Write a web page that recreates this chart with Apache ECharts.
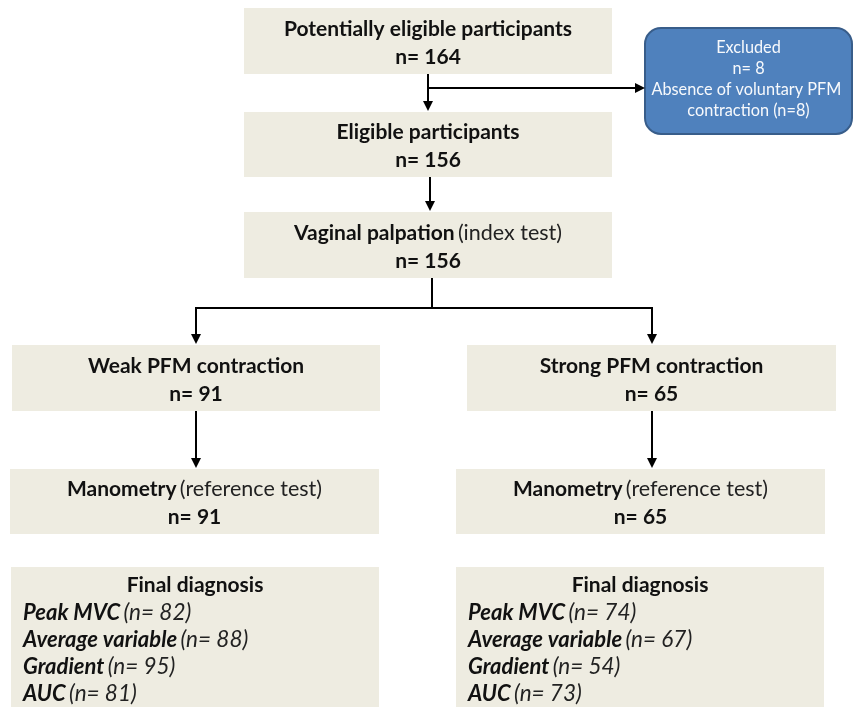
<!DOCTYPE html>
<html>
<head>
<meta charset="utf-8">
<script src="https://cdn.jsdelivr.net/npm/echarts@6/dist/echarts.min.js"></script>
<style>
  html, body { margin: 0; padding: 0; background: #fff; }
  #main { width: 857px; height: 707px; }
</style>
</head>
<body>
<div id="main"></div>
<script>
// flow steps, top to bottom, left to right
const stepTitles = ['Potentially eligible participants', 'Eligible participants', 'Vaginal palpation',
  'Weak PFM contraction', 'Strong PFM contraction', 'Manometry', 'Manometry'];
const stepNotes = ['', '', '(index test)', '', '', '(reference test)', '(reference test)'];
const stepCounts = [164, 156, 156, 91, 65, 91, 65];

const excludedCount = 8;
const excludedReason = 'Absence of voluntary PFM contraction';
const excludedReasonCount = 8;

const diagnosisTitle = 'Final diagnosis';
const diagnosisVariables = ['Peak MVC', 'Average variable', 'Gradient', 'AUC'];
const weakDiagnosisCounts = [82, 88, 95, 81];
const strongDiagnosisCounts = [74, 67, 54, 73];

// layout (page units, y down)
const stepBoxes = [
  [244, 8, 612, 74], [244, 112, 612, 177], [244, 212, 612, 278],
  [12, 345, 380, 411], [467, 345, 836, 411],
  [10, 469, 379, 534], [456, 469, 825, 534]
];
const excludedBox = [645, 28, 852, 134];
const diagnosisBoxes = [[11, 567, 379, 707], [456, 567, 824, 707]];
// plain elbow parts
const links = [
  [[432, 278], [432, 308], [196, 308], [196, 320]],
  [[432, 308], [652, 308], [652, 320]]
];
// straight legs ending in an arrow head
const arrows = [
  [[428, 74], [428, 106]],
  [[428, 88], [640, 88]],
  [[430, 177], [430, 206]],
  [[196, 318], [196, 339]],
  [[652, 318], [652, 339]],
  [[196, 411], [196, 463]],
  [[652, 411], [652, 463]]
];

const FONT = 'Lato, "Open Sans", sans-serif';
const boxFill = '#eeece1';

function rectOf(api) {
  const p0 = api.coord([api.value(0), api.value(1)]);
  const p1 = api.coord([api.value(2), api.value(3)]);
  return {x: p0[0], y: p0[1], width: p1[0] - p0[0], height: p1[1] - p0[1]};
}

function renderStep(params, api) {
  const i = params.dataIndex;
  const r = rectOf(api);
  const note = stepNotes[i] ? ' {r|' + stepNotes[i] + '}' : '';
  return {
    type: 'group',
    children: [
      {type: 'rect', shape: r, style: {fill: boxFill}},
      {
        type: 'text', x: r.x + r.width / 2, y: r.y + r.height / 2 + 2,
        style: {
          text: '{b|' + stepTitles[i] + '}' + note + '\n{b|n= ' + stepCounts[i] + '}',
          align: 'center', verticalAlign: 'middle',
          rich: {
            b: {fontFamily: FONT, fontWeight: 'bold', fontSize: 21, lineHeight: 28, fill: '#111'},
            r: {fontFamily: FONT, fontSize: 21.5, lineHeight: 28, fill: '#222'}
          }
        }
      }
    ]
  };
}

function renderExcluded(params, api) {
  const r = rectOf(api);
  return {
    type: 'group',
    children: [
      {type: 'rect', shape: Object.assign({r: 16}, r), style: {fill: '#4f81bd', stroke: '#385d8a', lineWidth: 2}},
      {
        type: 'text', x: r.x + r.width / 2, y: r.y + r.height / 2 - 2,
        style: {
          text: 'Excluded\nn= ' + excludedCount + '\n' + excludedReason + ' (n=' + excludedReasonCount + ')',
          width: 200, overflow: 'break',
          align: 'center', verticalAlign: 'middle',
          fontFamily: FONT, fontSize: 16.3, lineHeight: 21, fill: '#f7f9fc'
        }
      }
    ]
  };
}

function renderDiagnosis(params, api) {
  const counts = params.dataIndex === 0 ? weakDiagnosisCounts : strongDiagnosisCounts;
  const r = rectOf(api);
  const body = diagnosisVariables.map((v, k) => '{bi|' + v + '} {i|(n= ' + counts[k] + ')}').join('\n');
  return {
    type: 'group',
    children: [
      {type: 'rect', shape: r, style: {fill: boxFill}},
      {
        type: 'text', x: r.x + r.width / 2, y: r.y + 18,
        style: {
          text: diagnosisTitle, align: 'center', verticalAlign: 'middle',
          fontFamily: FONT, fontWeight: 'bold', fontSize: 21, fill: '#111'
        }
      },
      {
        type: 'text', x: r.x + 12, y: r.y + 32,
        style: {
          text: body, align: 'left', verticalAlign: 'top',
          rich: {
            bi: {fontFamily: FONT, fontWeight: 'bold', fontStyle: 'italic', fontSize: 22, lineHeight: 27, fill: '#111'},
            i: {fontFamily: FONT, fontStyle: 'italic', fontSize: 22.5, lineHeight: 27, fill: '#222'}
          }
        }
      }
    ]
  };
}

const chart = echarts.init(document.getElementById('main'), null, {renderer: 'canvas'});
chart.setOption({
  animation: false,
  backgroundColor: '#fff',
  grid: {left: 0, right: 0, top: 0, bottom: 0},
  xAxis: {type: 'value', min: 0, max: 857, show: false},
  yAxis: {type: 'value', min: 0, max: 707, inverse: true, show: false},
  series: [
    {type: 'custom', renderItem: renderStep, data: stepBoxes, silent: true, z: 1},
    {type: 'custom', renderItem: renderExcluded, data: [excludedBox], silent: true, z: 1},
    {type: 'custom', renderItem: renderDiagnosis, data: diagnosisBoxes, silent: true, z: 1},
    {
      type: 'lines', coordinateSystem: 'cartesian2d', polyline: true, silent: true, z: 3,
      lineStyle: {color: '#000', width: 2, opacity: 1},
      data: links.map(c => ({coords: c}))
    },
    {
      type: 'lines', coordinateSystem: 'cartesian2d', silent: true, z: 3,
      symbol: ['none', 'triangle'], symbolSize: [10, 10],
      lineStyle: {color: '#000', width: 2, opacity: 1},
      data: arrows.map(c => ({coords: c}))
    }
  ]
});
</script>
</body>
</html>
